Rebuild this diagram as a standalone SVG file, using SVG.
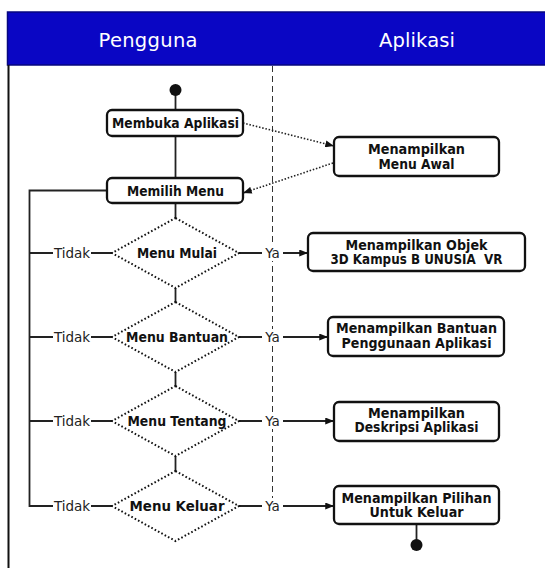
<svg xmlns="http://www.w3.org/2000/svg" width="545" height="568" viewBox="0 0 545 568">
  <style>
    .hdr { fill: #0a06c4; stroke: #07077f; stroke-width: 1.5; }
    .hdrtxt { font-family: "DejaVu Sans", "Liberation Sans", sans-serif; font-size: 19.5px; fill: #ffffff; text-anchor: middle; }
    .box { fill: #ffffff; stroke: #111111; stroke-width: 2.3; }
    .dia { fill: #ffffff; stroke: #111111; stroke-width: 2; stroke-dasharray: 1.6 2.2; }
    .lbl { font-family: "DejaVu Sans", "Liberation Sans", sans-serif; font-size: 13.5px; font-weight: 700; fill: #111111; text-anchor: middle; }
    .edge { font-family: "DejaVu Sans", "Liberation Sans", sans-serif; font-size: 13.5px; fill: #222222; text-anchor: middle; }
    .line { fill: none; stroke: #222222; stroke-width: 1.8; }
    .dot { fill: none; stroke: #222222; stroke-width: 1.6; stroke-dasharray: 1.5 1.8; }
    .lane { fill: none; stroke: #333333; stroke-width: 1; stroke-dasharray: 6 4; }
    .mask { fill: #ffffff; }
  </style>
  <defs>
    <marker id="arrow" viewBox="0 0 10 8" refX="10" refY="4" markerWidth="9" markerHeight="7" markerUnits="userSpaceOnUse" orient="auto">
      <path d="M0,0 L10,4 L0,8 z" fill="#111111"/>
    </marker>
  </defs>

  <!-- swimlane header and frame -->
  <g id="lanes">
    <rect class="hdr" x="7.5" y="12" width="540" height="53"/>
    <text class="hdrtxt" x="148" y="47" textLength="99">Pengguna</text>
    <text class="hdrtxt" x="417" y="47" textLength="76">Aplikasi</text>
    <line x1="8.5" y1="65" x2="8.5" y2="568" stroke="#111111" stroke-width="2"/>
    <line class="lane" x1="272.5" y1="66" x2="272.5" y2="500"/>
  </g>

  <!-- connectors -->
  <g id="connectors">
    <!-- main vertical flow -->
    <line class="line" x1="175.5" y1="90" x2="175.5" y2="110"/>
    <line class="line" x1="175.5" y1="136" x2="175.5" y2="178"/>
    <line class="line" x1="175.5" y1="203" x2="175.5" y2="218"/>
    <line class="line" x1="175.5" y1="288" x2="175.5" y2="302"/>
    <line class="line" x1="175.5" y1="372" x2="175.5" y2="386"/>
    <line class="line" x1="175.5" y1="456" x2="175.5" y2="471"/>
    <!-- loop back to menu selection -->
    <polyline class="line" points="107,190.5 29.5,190.5 29.5,506 112,506"/>
    <line class="line" x1="29.5" y1="253" x2="112" y2="253"/>
    <line class="line" x1="29.5" y1="337" x2="112" y2="337"/>
    <line class="line" x1="29.5" y1="421" x2="112" y2="421"/>
    <!-- Ya branches -->
    <line class="line" x1="239" y1="253" x2="308" y2="253" marker-end="url(#arrow)"/>
    <line class="line" x1="239" y1="337" x2="328" y2="337" marker-end="url(#arrow)"/>
    <line class="line" x1="239" y1="421" x2="334" y2="421" marker-end="url(#arrow)"/>
    <line class="line" x1="239" y1="506" x2="334" y2="506" marker-end="url(#arrow)"/>
    <!-- dotted message flows -->
    <line class="dot" x1="243" y1="123" x2="334" y2="146" marker-end="url(#arrow)"/>
    <line class="dot" x1="333" y1="163" x2="243" y2="193" marker-end="url(#arrow)"/>
    <!-- end -->
    <line class="line" x1="416.5" y1="524" x2="416.5" y2="544"/>

    <!-- branch labels -->
    <g id="labels">
      <rect class="mask" x="53" y="245" width="38" height="16"/>
      <text class="edge" x="72" y="258">Tidak</text>
      <rect class="mask" x="53" y="329" width="38" height="16"/>
      <text class="edge" x="72" y="342">Tidak</text>
      <rect class="mask" x="53" y="413" width="38" height="16"/>
      <text class="edge" x="72" y="426">Tidak</text>
      <rect class="mask" x="53" y="498" width="38" height="16"/>
      <text class="edge" x="72" y="511">Tidak</text>

      <rect class="mask" x="262" y="245" width="21" height="16"/>
      <text class="edge" x="272.5" y="258">Ya</text>
      <rect class="mask" x="262" y="329" width="21" height="16"/>
      <text class="edge" x="272.5" y="342">Ya</text>
      <rect class="mask" x="262" y="413" width="21" height="16"/>
      <text class="edge" x="272.5" y="426">Ya</text>
      <rect class="mask" x="262" y="498" width="21" height="16"/>
      <text class="edge" x="272.5" y="511">Ya</text>
    </g>
  </g>

  <!-- start / end -->
  <g id="start"><circle cx="175.5" cy="90" r="6" fill="#111111"/></g>
  <g id="end"><circle cx="416.5" cy="545" r="6" fill="#111111"/></g>

  <!-- user lane -->
  <g id="membuka-aplikasi">
    <rect class="box" x="107" y="110" width="136" height="26" rx="5"/>
    <text class="lbl" x="175.5" y="128" textLength="127" lengthAdjust="spacingAndGlyphs">Membuka Aplikasi</text>
  </g>
  <g id="memilih-menu">
    <rect class="box" x="107" y="178" width="136" height="25" rx="5"/>
    <text class="lbl" x="175.5" y="195.5" textLength="97" lengthAdjust="spacingAndGlyphs">Memilih Menu</text>
  </g>
  <g id="menu-mulai">
    <polygon class="dia" points="175.5,218 239,253 175.5,288 112,253"/>
    <text class="lbl" x="177" y="258" textLength="80" lengthAdjust="spacingAndGlyphs">Menu Mulai</text>
  </g>
  <g id="menu-bantuan">
    <polygon class="dia" points="175.5,302 239,337 175.5,372 112,337"/>
    <text class="lbl" x="177" y="342" textLength="102" lengthAdjust="spacingAndGlyphs">Menu Bantuan</text>
  </g>
  <g id="menu-tentang">
    <polygon class="dia" points="175.5,386 239,421 175.5,456 112,421"/>
    <text class="lbl" x="177" y="426" textLength="99" lengthAdjust="spacingAndGlyphs">Menu Tentang</text>
  </g>
  <g id="menu-keluar">
    <polygon class="dia" points="175.5,471 239,506 175.5,541 112,506"/>
    <text class="lbl" x="177" y="511" textLength="95" lengthAdjust="spacingAndGlyphs">Menu Keluar</text>
  </g>

  <!-- application lane -->
  <g id="menu-awal">
    <rect class="box" x="334" y="137" width="165" height="39" rx="5"/>
    <text class="lbl" x="416.5" y="154" textLength="97" lengthAdjust="spacingAndGlyphs">Menampilkan</text>
    <text class="lbl" x="416.5" y="168.5" textLength="76" lengthAdjust="spacingAndGlyphs">Menu Awal</text>
  </g>
  <g id="objek-3d">
    <rect class="box" x="308" y="233" width="217" height="38" rx="5"/>
    <text class="lbl" x="416.5" y="249.5" textLength="142" lengthAdjust="spacingAndGlyphs">Menampilkan Objek</text>
    <text class="lbl" x="416.5" y="264" textLength="172" lengthAdjust="spacingAndGlyphs" xml:space="preserve">3D Kampus B UNUSIA  VR</text>
  </g>
  <g id="bantuan">
    <rect class="box" x="328" y="317" width="176" height="39" rx="5"/>
    <text class="lbl" x="416.5" y="333" textLength="161" lengthAdjust="spacingAndGlyphs">Menampilkan Bantuan</text>
    <text class="lbl" x="416.5" y="347.5" textLength="150" lengthAdjust="spacingAndGlyphs">Penggunaan Aplikasi</text>
  </g>
  <g id="deskripsi">
    <rect class="box" x="334" y="402" width="165" height="39" rx="5"/>
    <text class="lbl" x="416.5" y="417.5" textLength="97" lengthAdjust="spacingAndGlyphs">Menampilkan</text>
    <text class="lbl" x="416.5" y="432" textLength="124" lengthAdjust="spacingAndGlyphs">Deskripsi Aplikasi</text>
  </g>
  <g id="pilihan-keluar">
    <rect class="box" x="334" y="486" width="165" height="38" rx="5"/>
    <text class="lbl" x="416.5" y="502.5" textLength="150" lengthAdjust="spacingAndGlyphs">Menampilkan Pilihan</text>
    <text class="lbl" x="416.5" y="517" textLength="94" lengthAdjust="spacingAndGlyphs">Untuk Keluar</text>
  </g>
</svg>
